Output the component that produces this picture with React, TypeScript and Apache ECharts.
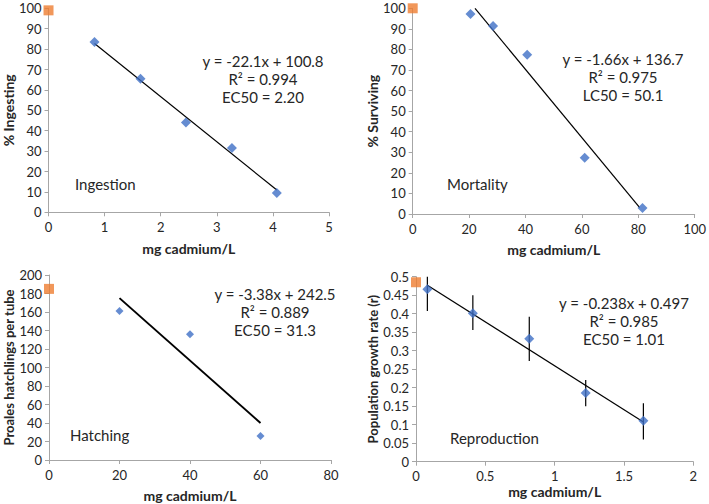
import React, { useEffect, useRef } from "react";
import * as echarts from "echarts";

// Ingestion
const ingX = [0.82, 1.64, 2.45, 3.27, 4.07];
const ingY = [83.5, 65.5, 44, 31.5, 9.5];
const ingCtrl = [0, 99];
const ingTrendX = [0.82, 4.07];
const ingTrendY = [82.7, 10.9];
// Mortality
const morX = [20.5, 28.5, 40.6, 61, 81.5];
const morY = [97.2, 91.4, 77.4, 27.3, 2.9];
const morCtrl = [0, 100];
const morTrendX = [22.1, 80.5];
const morTrendY = [100, 3.1];
// Hatching
const hatX = [20, 40, 60];
const hatY = [161, 136, 26];
const hatCtrl = [0, 185];
const hatTrendX = [20, 60];
const hatTrendY = [175, 40];
// Reproduction
const repX = [0.082, 0.41, 0.817, 1.224, 1.64];
const repY = [0.466, 0.401, 0.332, 0.186, 0.111];
const repLo = [0.407, 0.356, 0.272, 0.15, 0.06];
const repHi = [0.5, 0.45, 0.392, 0.221, 0.158];
const repCtrl = [0, 0.485];
const repTrendX = [0.082, 1.64];
const repTrendY = [0.477, 0.107];

const FONT = "Lato, 'Liberation Sans', sans-serif";
const AXIS_COLOR = "#a6a6a6";
const LABEL_COLOR = "#262626";
const BLUE = "#3f6fc6";
const ORANGE = "#ED7D31";

const zip = (a: number[], b: number[]) => a.map((v, i) => [v, b[i]]);

function xAxis(idx: number, max: number, interval: number, gap: number) {
  return {
    type: "value",
    gridIndex: idx,
    min: 0,
    max,
    interval,
    name: "mg cadmium/L",
    nameLocation: "middle",
    nameGap: gap,
    nameTextStyle: { fontFamily: FONT, fontWeight: "bold", fontSize: 14, color: LABEL_COLOR },
    axisLine: { show: true, lineStyle: { color: AXIS_COLOR, width: 1 } },
    axisTick: { show: true, length: 4, lineStyle: { color: AXIS_COLOR } },
    axisLabel: { fontFamily: FONT, fontSize: 13, color: LABEL_COLOR, margin: 8 },
    splitLine: { show: false },
  };
}
function yAxis(idx: number, max: number, interval: number, name: string, gap: number, nameSize: number) {
  return {
    type: "value",
    gridIndex: idx,
    min: 0,
    max,
    interval,
    name,
    nameLocation: "middle",
    nameGap: gap,
    nameTextStyle: { fontFamily: FONT, fontWeight: "bold", fontSize: nameSize, color: LABEL_COLOR },
    axisLine: { show: true, lineStyle: { color: AXIS_COLOR, width: 1 } },
    axisTick: { show: true, length: 4, lineStyle: { color: AXIS_COLOR } },
    axisLabel: { fontFamily: FONT, fontSize: 13, color: LABEL_COLOR, margin: 7 },
    splitLine: { show: false },
  };
}

function panelSeries(idx: number, xs: number[], ys: number[], ctrl: number[], tx: number[], ty: number[], size: number, lw: number) {
  return [
    {
      type: "line",
      xAxisIndex: idx,
      yAxisIndex: idx,
      data: zip(tx, ty),
      showSymbol: false,
      symbol: "none",
      lineStyle: { color: "#000", width: lw },
      z: 3,
      silent: true,
    },
    {
      type: "scatter",
      xAxisIndex: idx,
      yAxisIndex: idx,
      data: zip(xs, ys),
      symbol: "diamond",
      symbolSize: size,
      itemStyle: { color: BLUE },
      z: 4,
    },
    {
      type: "scatter",
      xAxisIndex: idx,
      yAxisIndex: idx,
      data: [ctrl],
      symbol: "rect",
      symbolSize: 10,
      itemStyle: { color: ORANGE },
      z: 4,
    },
  ];
}

function txt(lines: string[], cx: number, y0: number, step: number) {
  return lines.map((t, i) => ({
    type: "text",
    x: cx,
    y: y0 + i * step,
    style: {
      text: t,
      fill: LABEL_COLOR,
      font: `15px ${FONT}`,
      textAlign: "center",
      textVerticalAlign: "middle",
    },
  }));
}
function lbl(t: string, x: number, y: number) {
  return {
    type: "text",
    x,
    y,
    style: { text: t, fill: LABEL_COLOR, font: `15px ${FONT}`, textAlign: "left", textVerticalAlign: "middle" },
  };
}

export default function App() {
  const ref = useRef<HTMLDivElement>(null);
  useEffect(() => {
    if (!ref.current) return;
    const chart = echarts.init(ref.current, null, { renderer: "svg" });
    const option: any = {
      animation: false,
      backgroundColor: "#ffffff",
      grid: [
        { left: 48, top: 8.3, width: 281, height: 204 },
        { left: 412.7, top: 8.3, width: 285, height: 205.7 },
        { left: 49, top: 275, width: 282, height: 185 },
        { left: 416, top: 276.7, width: 277.3, height: 185 },
      ],
      xAxis: [
        xAxis(0, 5, 1, 29),
        xAxis(1, 100, 20, 28),
        xAxis(2, 80, 20, 28),
        xAxis(3, 2, 0.5, 23),
      ],
      yAxis: [
        yAxis(0, 100, 10, "% Ingesting", 33, 14),
        yAxis(1, 100, 10, "% Surviving", 33, 14),
        yAxis(2, 200, 20, "Proales hatchlings per tube", 34, 13),
        yAxis(3, 0.5, 0.05, "Population growth rate (r)", 37, 13),
      ],
      series: [
        ...panelSeries(0, ingX, ingY, ingCtrl, ingTrendX, ingTrendY, 10, 1.2),
        ...panelSeries(1, morX, morY, morCtrl, morTrendX, morTrendY, 10, 1.2),
        ...panelSeries(2, hatX, hatY, hatCtrl, hatTrendX, hatTrendY, 8, 2),
        ...panelSeries(3, repX, repY, repCtrl, repTrendX, repTrendY, 10, 1.2),
        {
          type: "custom",
          xAxisIndex: 3,
          yAxisIndex: 3,
          data: repX.map((x, i) => [x, repLo[i], repHi[i]]),
          encode: { x: 0, y: [1, 2] },
          z: 2,
          renderItem: (params: any, api: any) => {
            const p1 = api.coord([api.value(0), api.value(1)]);
            const p2 = api.coord([api.value(0), api.value(2)]);
            return {
              type: "line",
              shape: { x1: p1[0], y1: p1[1], x2: p2[0], y2: p2[1] },
              style: { stroke: "#000", lineWidth: 1.2 },
            };
          },
        },
      ],
      graphic: [
        ...txt(["y = -22.1x + 100.8", "R² = 0.994", "EC50 = 2.20"], 263, 61, 18),
        ...txt(["y = -1.66x + 136.7", "R² = 0.975", "LC50 = 50.1"], 623, 59, 18),
        ...txt(["y = -3.38x + 242.5", "R² = 0.889", "EC50 = 31.3"], 275, 294, 18),
        ...txt(["y = -0.238x + 0.497", "R² = 0.985", "EC50 = 1.01"], 624, 303, 18),
        lbl("Ingestion", 75, 184),
        lbl("Mortality", 447, 184),
        lbl("Hatching", 70, 435),
        lbl("Reproduction", 450, 438),
      ],
    };
    chart.setOption(option);
    return () => chart.dispose();
  }, []);
  return <div ref={ref} style={{ position: "absolute", left: 0, top: 0, width: 709, height: 504 }} />;
}
